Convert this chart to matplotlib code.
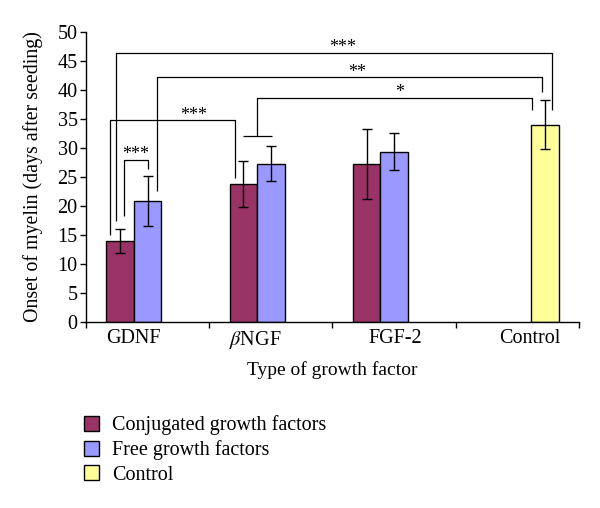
import numpy as np
import matplotlib
matplotlib.use("Agg")
import matplotlib.pyplot as plt
from matplotlib.patches import Patch

plt.rcParams['font.family'] = ['Liberation Serif', 'DejaVu Serif']
plt.rcParams['mathtext.fontset'] = 'stix'

# データ
categories = ['GDNF', r'$\beta$NGF', 'FGF-2', 'Control']
conj_mean = [14.0, 23.8, 27.3, np.nan]
conj_err = [2.1, 4.0, 6.0, 0]
free_mean = [20.8, 27.3, 29.4, np.nan]
free_err = [4.3, 3.0, 3.2, 0]
ctrl_mean = [np.nan, np.nan, np.nan, 34.0]
ctrl_err = [0, 0, 0, 4.2]

series_names = ['Conjugated growth factors', 'Free growth factors', 'Control']
colors = ['#993366', '#9999FF', '#FFFF99']

x = np.arange(len(categories))
w = 0.223

fig = plt.figure(figsize=(6, 5.08), dpi=100)
ax = fig.add_axes([0.1433, 0.366, 0.8217, 0.571])

ekw = dict(ecolor='black', elinewidth=1, capsize=3.5, capthick=1)
for i, (m, e) in enumerate([(conj_mean, conj_err), (free_mean, free_err), (ctrl_mean, ctrl_err)]):
    ax.bar(x + (i - 1) * w, m, w, yerr=e, color=colors[i], edgecolor='black',
           linewidth=1, error_kw=ekw, zorder=2)

ax.set_xlim(-0.5, 3.5)
ax.set_ylim(0, 50)
ax.set_yticks(np.arange(0, 51, 5))
ax.tick_params(axis='y', labelsize=14.5, length=4, width=1, direction='out', pad=2)

# 目盛りはカテゴリの境界、ラベルは別の位置
ax.set_xticks(np.arange(-0.5, 3.6, 1))
ax.set_xticklabels([])
ax.tick_params(axis='x', which='major', length=4, width=1, direction='out')
ax.set_xticks([-0.119, 0.875, 2.01, 3.098], minor=True)
ax.set_xticklabels(categories, minor=True)
ax.tick_params(axis='x', which='minor', length=0, labelsize=14.5, pad=5)

for s in ['top', 'right']:
    ax.spines[s].set_visible(False)
ax.spines['left'].set_linewidth(1)
ax.spines['bottom'].set_linewidth(1)

ax.set_ylabel('Onset of myelin (days after seeding)', fontsize=14.3)
ax.yaxis.set_label_coords(-0.088, 0.5)
ax.set_xlabel('Type of growth factor', fontsize=14, labelpad=7)

# 有意差の括弧
lk = dict(color='black', lw=0.9, solid_capstyle='butt', zorder=3, clip_on=False)
brackets = [
    # x左, 左下端, 上端, x右, 右下端
    (-0.189, 18.2, 28.0, 0.005, 26.4),
    (-0.308, 15.0, 34.8, 0.709, 24.8),
    (0.885, 32.0, 38.7, 3.116, 36.5),
    (0.074, 22.6, 42.2, 3.202, 39.7),
    (-0.254, 17.5, 46.4, 3.283, 36.5),
]
for xl, yl, yt, xr, yr in brackets:
    ax.plot([xl, xl, xr, xr], [yl, yt, yt, yr], **lk)
ax.plot([0.771, 1.007], [32.0, 32.0], **lk)

stars = [('***', -0.094, 28.0), ('***', 0.376, 34.8), ('*', 2.048, 38.7),
         ('**', 1.696, 42.2), ('***', 1.585, 46.4)]
for s, sx, sy in stars:
    ax.text(sx, sy + 0.1, s, ha='center', va='baseline', fontsize=13)

# 凡例
handles = [Patch(facecolor=c, edgecolor='black', linewidth=1) for c in colors]
fig.legend(handles, series_names, loc='center left', bbox_to_anchor=(0.14, 0.114),
           frameon=False, fontsize=14.5, handlelength=0.75, handleheight=0.75,
           handletextpad=0.65, labelspacing=0.25, borderaxespad=0, borderpad=0)

fig.savefig('out.png', dpi=100)
